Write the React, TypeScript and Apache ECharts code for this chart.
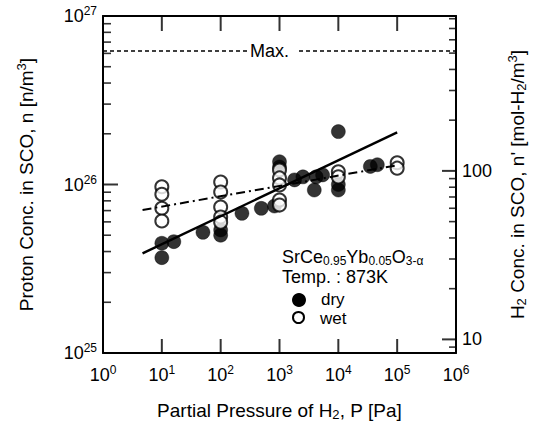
import React, { useEffect, useRef } from "react";
import * as echarts from "echarts";

const AVOGADRO = 6.022e23;
const X_TICKS = [10, 100, 1000, 10000, 100000];
const Y_MAJOR = [1e25, 1e26, 1e27];
const Y_MINOR = [2e25, 3e25, 4e25, 5e25, 6e25, 7e25, 8e25, 9e25, 2e26, 3e26, 4e26, 5e26, 6e26, 7e26, 8e26, 9e26];
const R_MAJOR = [10, 100];
const R_MINOR = [9, 20, 30, 40, 50, 60, 70, 80, 90, 200, 300, 400, 500, 600, 700, 800];

const dryP = [10, 16, 10, 50, 100, 100, 230, 490, 820, 1000, 1000, 1800, 2500, 3900, 4200, 5400, 10000, 10000, 10000, 35000, 46000];
const dryN = [4.48e25, 4.58e25, 3.68e25, 5.2e25, 5.37e25, 5.0e25, 6.74e25, 7.22e25, 7.45e25, 1.365e26, 1.27e26, 1.065e26, 1.11e26, 9.27e25, 1.11e26, 1.14e26, 2.06e26, 1.0e26, 9.27e25, 1.28e26, 1.31e26];

const wetP = [10, 10, 10, 10, 100, 100, 100, 100, 100, 1000, 1000, 1000, 1000, 1000, 10000, 10000, 100000, 100000];
const wetN = [9.7e25, 8.75e25, 7.22e25, 6.07e25, 1.035e26, 9.02e25, 7.35e25, 6.41e25, 5.98e25, 1.22e26, 1.094e26, 9.94e25, 8.09e25, 7.55e25, 1.19e26, 1.11e26, 1.346e26, 1.25e26];

const fitDryP = [4.7, 100000];
const fitDryN = [3.9e25, 2.04e26];
const fitWetP = [4.7, 100000];
const fitWetN = [7.06e25, 1.3e26];

const maxP = [1, 1000000];
const maxN = [6.2e26, 6.2e26];

const FONT = "'Liberation Sans', Arial, Helvetica, sans-serif";

const rich = {
  b: { fontSize: 18, fontFamily: FONT, color: "#000", lineHeight: 20 },
  sup: { fontSize: 12, fontFamily: FONT, color: "#000", lineHeight: 12, padding: [0, 0, 10, 0] },
  sub: { fontSize: 12, fontFamily: FONT, color: "#000", lineHeight: 12, padding: [8, 0, 0, 0] },
};

const isDecade = (v: number) => {
  const e = Math.log10(v);
  return Math.abs(e - Math.round(e)) < 1e-6;
};

const powLabel = (v: number) => {
  if (!isDecade(v)) return "";
  const e = Math.round(Math.log10(v));
  return `{b|10}{sup|${e}}`;
};

const plainLabel = (v: number) => (isDecade(v) ? `{b|${Math.round(v)}}` : "");

const zip = (a: number[], b: number[]) => a.map((v, i) => [v, b[i]]);

// tick marks drawn as thin rectangles at axis positions, through the axes' own scales
const tickSeries = (
  name: string,
  data: number[][],
  size: number[],
  offset: number[],
  yAxisIndex = 0
) => ({
  type: "scatter",
  name,
  data,
  yAxisIndex,
  symbol: "rect",
  symbolSize: size,
  symbolOffset: offset,
  itemStyle: { color: "#000" },
  clip: false,
  silent: true,
  z: 6,
});

export default function App() {
  const ref = useRef<HTMLDivElement>(null);
  useEffect(() => {
    if (!ref.current) return;
    const chart = echarts.init(ref.current, null, { renderer: "svg" });
    const axisLine = { show: true, lineStyle: { color: "#000", width: 2 } };
    const rMin = 1e25 / (2 * AVOGADRO);
    const rMax = 1e27 / (2 * AVOGADRO);
    const nameStyle = {
      fontSize: 19,
      fontFamily: FONT,
      color: "#000",
      rich: {
        sub: { fontSize: 13, fontFamily: FONT, color: "#000", lineHeight: 13, padding: [8, 0, 0, 0] },
        sup: { fontSize: 13, fontFamily: FONT, color: "#000", lineHeight: 13, padding: [0, 0, 10, 0] },
      },
    };
    const option: any = {
      animation: false,
      backgroundColor: "#fff",
      grid: { left: 103, right: 80, top: 16, bottom: 75, containLabel: false },
      xAxis: [
        {
          type: "log",
          position: "bottom",
          min: 1,
          max: 1000000,
          axisLine,
          axisTick: { show: false },
          axisLabel: { formatter: powLabel, rich, margin: 12, showMinLabel: true, showMaxLabel: true },
          splitLine: { show: false },
          name: "Partial Pressure of H{sub|2}, P [Pa]",
          nameLocation: "middle",
          nameGap: 48,
          nameTextStyle: nameStyle,
        },
        {
          type: "log",
          position: "top",
          min: 1,
          max: 1000000,
          axisLine,
          axisTick: { show: false },
          axisLabel: { show: false },
          splitLine: { show: false },
        },
      ],
      yAxis: [
        {
          type: "log",
          position: "left",
          min: 1e25,
          max: 1e27,
          axisLine,
          axisTick: { show: false },
          axisLabel: { formatter: powLabel, rich, margin: 6, showMinLabel: true, showMaxLabel: true },
          splitLine: { show: false },
          name: "Proton Conc. in SCO, n [n/m{sup|3}]",
          nameLocation: "middle",
          nameGap: 67,
          nameTextStyle: nameStyle,
        },
        {
          type: "log",
          position: "right",
          min: rMin,
          max: rMax,
          axisLine,
          axisTick: { show: false },
          axisLabel: { formatter: plainLabel, rich, margin: 6 },
          splitLine: { show: false },
          name: "H{sub|2} Conc. in SCO, n' [mol-H{sub|2}/m{sup|3}]",
          nameLocation: "middle",
          nameGap: 52,
          nameTextStyle: nameStyle,
        },
      ],
      series: [
        tickSeries("bottom ticks", X_TICKS.map((v) => [v, 1e25]), [2, 14], [0, -7]),
        tickSeries("top ticks", X_TICKS.map((v) => [v, 1e27]), [2, 15], [0, 7.5]),
        tickSeries("left major ticks", Y_MAJOR.map((v) => [1, v]), [15, 2], [7.5, 0]),
        tickSeries("left minor ticks", Y_MINOR.map((v) => [1, v]), [8, 1.6], [4, 0]),
        tickSeries("right major ticks", R_MAJOR.map((v) => [1000000, v]), [14, 2], [-7, 0], 1),
        tickSeries("right minor ticks", R_MINOR.map((v) => [1000000, v]), [7, 1.6], [-3.5, 0], 1),
        {
          type: "line",
          name: "Max.",
          data: zip(maxP, maxN),
          symbol: "none",
          lineStyle: { color: "#000", width: 1.6, type: [4, 3] },
          silent: true,
        },
        {
          type: "line",
          name: "dry fit",
          data: zip(fitDryP, fitDryN),
          symbol: "none",
          lineStyle: { color: "#000", width: 2.4 },
          silent: true,
        },
        {
          type: "line",
          name: "wet fit",
          data: zip(fitWetP, fitWetN),
          symbol: "none",
          lineStyle: { color: "#000", width: 2, type: [9, 4, 2, 4] },
          silent: true,
        },
        {
          type: "scatter",
          name: "dry",
          data: zip(dryP, dryN),
          symbol: "circle",
          symbolSize: 14,
          itemStyle: { color: "#000", borderColor: "#000", borderWidth: 0.5 },
        },
        {
          type: "scatter",
          name: "wet",
          data: zip(wetP, wetN),
          symbol: "circle",
          symbolSize: 13,
          itemStyle: { color: "#fff", borderColor: "#000", borderWidth: 2 },
        },
      ],
      graphic: [
        {
          type: "text",
          x: 272,
          y: 51,
          z: 100,
          style: {
            text: "Max.",
            font: `18px ${FONT}`,
            fill: "#000",
            align: "center",
            verticalAlign: "middle",
            backgroundColor: "#fff",
            padding: [2, 8, 2, 3],
          },
        },
        {
          type: "text",
          x: 282,
          y: 257,
          z: 100,
          style: {
            text: "{b|SrCe}{sub|0.95}{b|Yb}{sub|0.05}{b|O}{sub|3-α}",
            rich,
            align: "left",
            verticalAlign: "middle",
          },
        },
        {
          type: "text",
          x: 282,
          y: 277,
          z: 100,
          style: { text: "Temp. : 873K", font: `18px ${FONT}`, fill: "#000", align: "left", verticalAlign: "middle" },
        },
        { type: "circle", z: 100, shape: { cx: 299, cy: 300, r: 7 }, style: { fill: "#000" } },
        {
          type: "text",
          x: 321,
          y: 299,
          z: 100,
          style: { text: "dry", font: `17px ${FONT}`, lineHeight: 17, fill: "#000", align: "left", verticalAlign: "middle" },
        },
        { type: "circle", z: 100, shape: { cx: 298.5, cy: 317.5, r: 5.5 }, style: { fill: "#fff", stroke: "#000", lineWidth: 2 } },
        {
          type: "text",
          x: 320,
          y: 318,
          z: 100,
          style: { text: "wet", font: `17px ${FONT}`, lineHeight: 17, fill: "#000", align: "left", verticalAlign: "middle" },
        },
      ],
    };
    chart.setOption(option);
    return () => chart.dispose();
  }, []);
  return (
    <div
      ref={ref}
      style={{ position: "fixed", left: 0, top: 0, width: 537, height: 428, background: "#fff" }}
    />
  );
}
